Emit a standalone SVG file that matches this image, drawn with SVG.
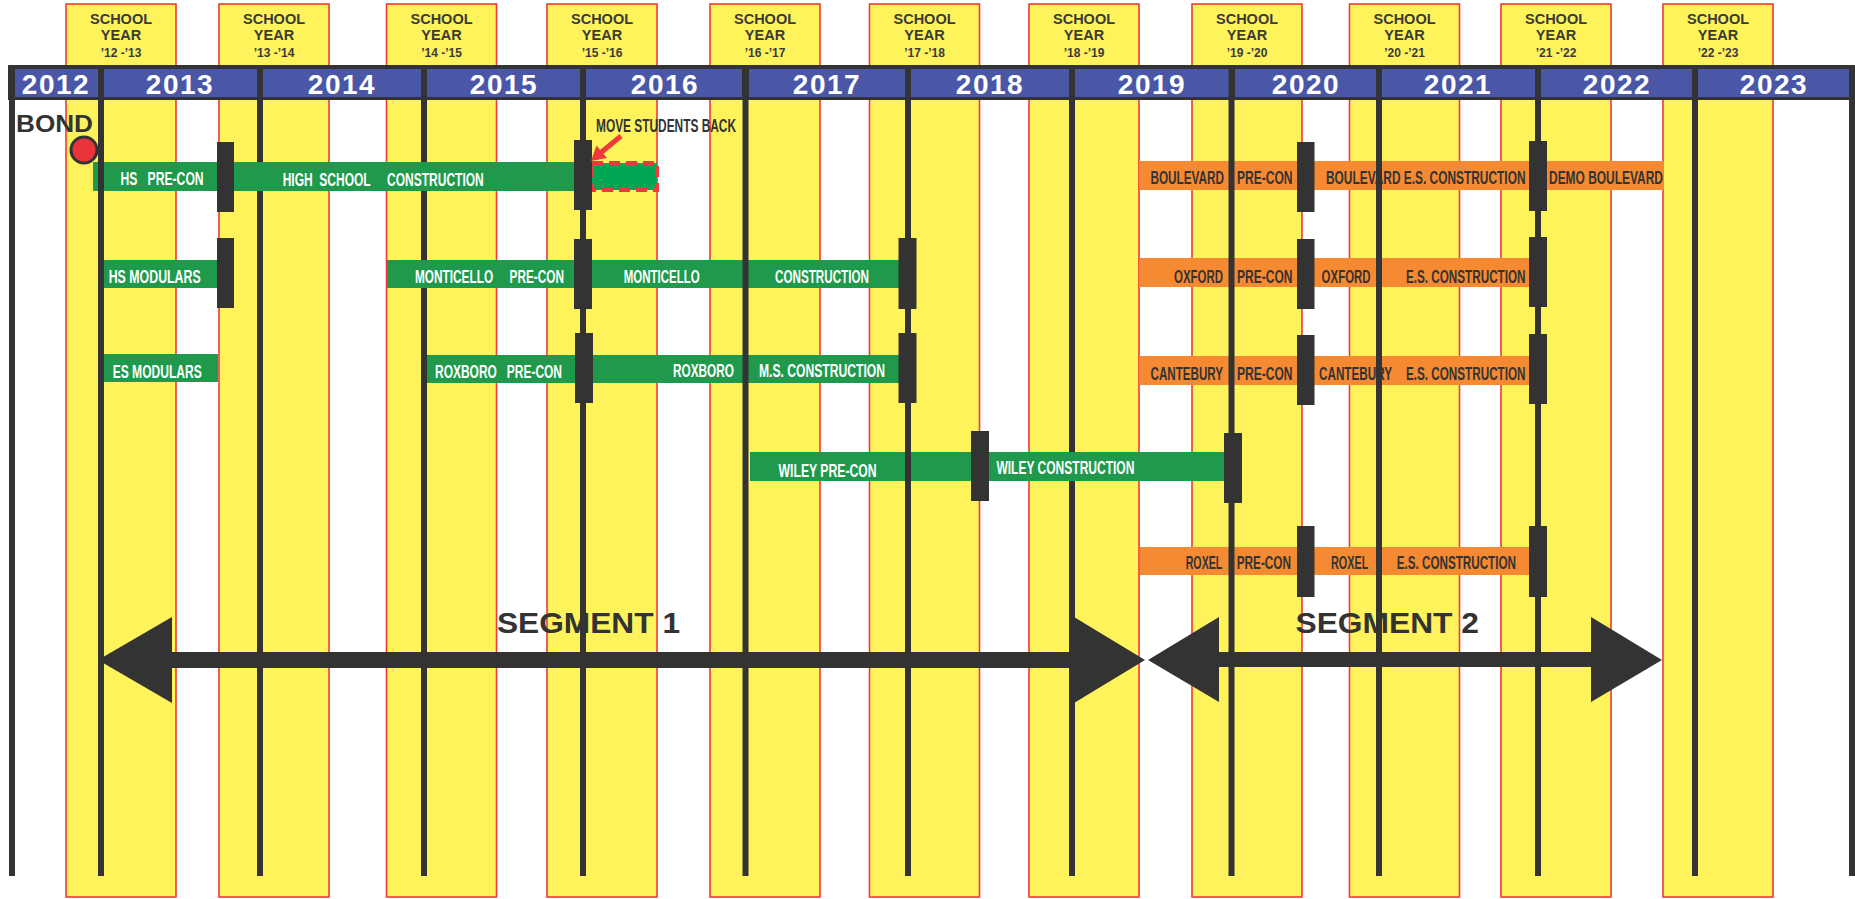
<svg xmlns="http://www.w3.org/2000/svg" width="1855" height="899" viewBox="0 0 1855 899">
<style>
.col{fill:#FFF35C;stroke:#EE3A3A;stroke-width:1.6}
.sy{font-family:"Liberation Sans",Arial,sans-serif;font-weight:bold;fill:#3a3a3a;text-anchor:middle}
.yr{font-family:"Liberation Sans",Arial,sans-serif;font-weight:bold;font-size:28px;fill:#fff;text-anchor:middle;letter-spacing:1.5px}
.cell{fill:#4A57A6}
.ln{stroke:#333;stroke-width:6;fill:none}
.g{fill:#1F9A4D}
.o{fill:#F58A32}
.mk{fill:#333}
.wt{font-family:"Liberation Sans",Arial,sans-serif;font-weight:bold;font-size:12.5px;fill:#fff;white-space:pre}
.dk{font-family:"Liberation Sans",Arial,sans-serif;font-weight:bold;font-size:12.5px;fill:#333;white-space:pre}
.big{font-family:"Liberation Sans",Arial,sans-serif;font-weight:bold;fill:#333}
</style>
<rect width="1855" height="899" fill="#fff"/>
<g id="school-years">
<g id="sy1213"><rect class="col" x="66" y="4" width="110" height="893"/><text class="sy" x="121" y="24" font-size="14.5">SCHOOL</text><text class="sy" x="121" y="40" font-size="14.5">YEAR</text><text class="sy" x="121" y="57" font-size="12">’12 -’13</text></g>
<g id="sy1314"><rect class="col" x="219" y="4" width="110" height="893"/><text class="sy" x="274" y="24" font-size="14.5">SCHOOL</text><text class="sy" x="274" y="40" font-size="14.5">YEAR</text><text class="sy" x="274" y="57" font-size="12">’13 -’14</text></g>
<g id="sy1415"><rect class="col" x="386.5" y="4" width="110" height="893"/><text class="sy" x="441.5" y="24" font-size="14.5">SCHOOL</text><text class="sy" x="441.5" y="40" font-size="14.5">YEAR</text><text class="sy" x="441.5" y="57" font-size="12">’14 -’15</text></g>
<g id="sy1516"><rect class="col" x="547" y="4" width="110" height="893"/><text class="sy" x="602" y="24" font-size="14.5">SCHOOL</text><text class="sy" x="602" y="40" font-size="14.5">YEAR</text><text class="sy" x="602" y="57" font-size="12">’15 -’16</text></g>
<g id="sy1617"><rect class="col" x="710" y="4" width="110" height="893"/><text class="sy" x="765" y="24" font-size="14.5">SCHOOL</text><text class="sy" x="765" y="40" font-size="14.5">YEAR</text><text class="sy" x="765" y="57" font-size="12">’16 -’17</text></g>
<g id="sy1718"><rect class="col" x="869.5" y="4" width="110" height="893"/><text class="sy" x="924.5" y="24" font-size="14.5">SCHOOL</text><text class="sy" x="924.5" y="40" font-size="14.5">YEAR</text><text class="sy" x="924.5" y="57" font-size="12">’17 -’18</text></g>
<g id="sy1819"><rect class="col" x="1029" y="4" width="110" height="893"/><text class="sy" x="1084" y="24" font-size="14.5">SCHOOL</text><text class="sy" x="1084" y="40" font-size="14.5">YEAR</text><text class="sy" x="1084" y="57" font-size="12">’18 -’19</text></g>
<g id="sy1920"><rect class="col" x="1192" y="4" width="110" height="893"/><text class="sy" x="1247" y="24" font-size="14.5">SCHOOL</text><text class="sy" x="1247" y="40" font-size="14.5">YEAR</text><text class="sy" x="1247" y="57" font-size="12">’19 -’20</text></g>
<g id="sy2021"><rect class="col" x="1349.5" y="4" width="110" height="893"/><text class="sy" x="1404.5" y="24" font-size="14.5">SCHOOL</text><text class="sy" x="1404.5" y="40" font-size="14.5">YEAR</text><text class="sy" x="1404.5" y="57" font-size="12">’20 -’21</text></g>
<g id="sy2122"><rect class="col" x="1501" y="4" width="110" height="893"/><text class="sy" x="1556" y="24" font-size="14.5">SCHOOL</text><text class="sy" x="1556" y="40" font-size="14.5">YEAR</text><text class="sy" x="1556" y="57" font-size="12">’21 -’22</text></g>
<g id="sy2223"><rect class="col" x="1663" y="4" width="110" height="893"/><text class="sy" x="1718" y="24" font-size="14.5">SCHOOL</text><text class="sy" x="1718" y="40" font-size="14.5">YEAR</text><text class="sy" x="1718" y="57" font-size="12">’22 -’23</text></g>
</g>
<g id="header">
<rect x="8" y="65" width="1847" height="35" fill="#333"/>
<rect class="cell" x="15" y="69" width="83" height="28"/>
<rect class="cell" x="104" y="69" width="153" height="28"/>
<rect class="cell" x="263" y="69" width="158" height="28"/>
<rect class="cell" x="427" y="69" width="153" height="28"/>
<rect class="cell" x="586" y="69" width="156" height="28"/>
<rect class="cell" x="749" y="69" width="156" height="28"/>
<rect class="cell" x="911" y="69" width="158" height="28"/>
<rect class="cell" x="1075" y="69" width="154" height="28"/>
<rect class="cell" x="1235" y="69" width="141" height="28"/>
<rect class="cell" x="1382" y="69" width="153" height="28"/>
<rect class="cell" x="1541" y="69" width="151" height="28"/>
<rect class="cell" x="1698" y="69" width="151" height="28"/>
<text class="yr" x="56" y="94">2012</text>
<text class="yr" x="180" y="94">2013</text>
<text class="yr" x="342" y="94">2014</text>
<text class="yr" x="504" y="94">2015</text>
<text class="yr" x="665" y="94">2016</text>
<text class="yr" x="827" y="94">2017</text>
<text class="yr" x="990" y="94">2018</text>
<text class="yr" x="1152" y="94">2019</text>
<text class="yr" x="1306" y="94">2020</text>
<text class="yr" x="1458" y="94">2021</text>
<text class="yr" x="1617" y="94">2022</text>
<text class="yr" x="1774" y="94">2023</text>
</g>
<g id="lines-back">
<line class="ln" x1="260" y1="65" x2="260" y2="876"/>
<line class="ln" x1="424" y1="65" x2="424" y2="876"/>
<line class="ln" x1="1072" y1="65" x2="1072" y2="876"/>
</g>
<g id="bond">
<text class="big" x="16" y="132" font-size="23" textLength="77" lengthAdjust="spacingAndGlyphs">BOND</text>
<circle cx="84" cy="150" r="13" fill="#E8343A" stroke="#333" stroke-width="3"/>
</g>
<g id="bars">
<g id="hs"><rect class="g" x="93" y="162" width="490" height="29"/>
<text class="wt" transform="translate(120.6 185) scale(1 1.45)" textLength="83" lengthAdjust="spacingAndGlyphs" xml:space="preserve">HS   PRE-CON</text>
<text class="wt" transform="translate(282.7 186) scale(1 1.45)" textLength="201" lengthAdjust="spacingAndGlyphs" xml:space="preserve">HIGH  SCHOOL     CONSTRUCTION</text></g>
<g id="move-back"><rect x="592" y="163" width="65" height="27" fill="#00A651" stroke="#EE3A3A" stroke-width="4" stroke-dasharray="11 6"/>
<text class="dk" transform="translate(596 132) scale(1 1.45)" textLength="140" lengthAdjust="spacingAndGlyphs">MOVE STUDENTS BACK</text></g>
<g id="hs-modulars"><rect class="g" x="104" y="260" width="113" height="28"/>
<text class="wt" transform="translate(108.7 283) scale(1 1.45)" textLength="92" lengthAdjust="spacingAndGlyphs">HS MODULARS</text></g>
<g id="monticello"><rect class="g" x="387" y="260" width="512" height="28"/>
<text class="wt" transform="translate(415 283) scale(1 1.45)" textLength="149" lengthAdjust="spacingAndGlyphs" xml:space="preserve">MONTICELLO     PRE-CON</text>
<text class="wt" transform="translate(623.7 283) scale(1 1.45)" textLength="76" lengthAdjust="spacingAndGlyphs">MONTICELLO</text>
<text class="wt" transform="translate(775 283) scale(1 1.45)" textLength="94" lengthAdjust="spacingAndGlyphs">CONSTRUCTION</text></g>
<g id="es-modulars"><rect class="g" x="104" y="354" width="114" height="28"/>
<text class="wt" transform="translate(112.7 378) scale(1 1.45)" textLength="89" lengthAdjust="spacingAndGlyphs">ES MODULARS</text></g>
<g id="roxboro"><rect class="g" x="427" y="355" width="472" height="28"/>
<text class="wt" transform="translate(435 378) scale(1 1.45)" textLength="127" lengthAdjust="spacingAndGlyphs" xml:space="preserve">ROXBORO   PRE-CON</text>
<text class="wt" transform="translate(673 377) scale(1 1.45)" textLength="61" lengthAdjust="spacingAndGlyphs">ROXBORO</text>
<text class="wt" transform="translate(759 377) scale(1 1.45)" textLength="126" lengthAdjust="spacingAndGlyphs">M.S. CONSTRUCTION</text></g>
<g id="wiley"><rect class="g" x="750" y="452" width="474" height="29"/>
<text class="wt" transform="translate(778.6 477) scale(1 1.45)" textLength="98" lengthAdjust="spacingAndGlyphs">WILEY PRE-CON</text>
<text class="wt" transform="translate(996.4 474) scale(1 1.45)" textLength="138" lengthAdjust="spacingAndGlyphs">WILEY CONSTRUCTION</text></g>
<g id="boulevard"><rect class="o" x="1139" y="161" width="525" height="29"/>
<text class="dk" transform="translate(1150.5 184) scale(1 1.45)" textLength="73.5" lengthAdjust="spacingAndGlyphs">BOULEVARD</text>
<text class="dk" transform="translate(1237 184) scale(1 1.45)" textLength="55.5" lengthAdjust="spacingAndGlyphs">PRE-CON</text>
<text class="dk" transform="translate(1326 184) scale(1 1.45)" textLength="199.5" lengthAdjust="spacingAndGlyphs">BOULEVARD E.S. CONSTRUCTION</text>
<text class="dk" transform="translate(1549 184) scale(1 1.45)" textLength="114" lengthAdjust="spacingAndGlyphs">DEMO BOULEVARD</text></g>
<g id="oxford"><rect class="o" x="1139" y="258" width="390" height="29"/>
<text class="dk" transform="translate(1174 283) scale(1 1.45)" textLength="49" lengthAdjust="spacingAndGlyphs">OXFORD</text>
<text class="dk" transform="translate(1237 283) scale(1 1.45)" textLength="55.5" lengthAdjust="spacingAndGlyphs">PRE-CON</text>
<text class="dk" transform="translate(1321.6 283) scale(1 1.45)" textLength="49" lengthAdjust="spacingAndGlyphs">OXFORD</text>
<text class="dk" transform="translate(1406 283) scale(1 1.45)" textLength="119.5" lengthAdjust="spacingAndGlyphs">E.S. CONSTRUCTION</text></g>
<g id="cantebury"><rect class="o" x="1139" y="356" width="390" height="29"/>
<text class="dk" transform="translate(1150.5 380) scale(1 1.45)" textLength="72.5" lengthAdjust="spacingAndGlyphs">CANTEBURY</text>
<text class="dk" transform="translate(1237 380) scale(1 1.45)" textLength="55.5" lengthAdjust="spacingAndGlyphs">PRE-CON</text>
<text class="dk" transform="translate(1319 380) scale(1 1.45)" textLength="73" lengthAdjust="spacingAndGlyphs">CANTEBURY</text>
<text class="dk" transform="translate(1406 380) scale(1 1.45)" textLength="119.5" lengthAdjust="spacingAndGlyphs">E.S. CONSTRUCTION</text></g>
<g id="roxel"><rect class="o" x="1140" y="547" width="390" height="28"/>
<text class="dk" transform="translate(1185.7 569) scale(1 1.45)" textLength="36.6" lengthAdjust="spacingAndGlyphs">ROXEL</text>
<text class="dk" transform="translate(1236.7 569) scale(1 1.45)" textLength="54.3" lengthAdjust="spacingAndGlyphs">PRE-CON</text>
<text class="dk" transform="translate(1331 569) scale(1 1.45)" textLength="37.3" lengthAdjust="spacingAndGlyphs">ROXEL</text>
<text class="dk" transform="translate(1396.7 569) scale(1 1.45)" textLength="119.3" lengthAdjust="spacingAndGlyphs">E.S. CONSTRUCTION</text></g>
</g>
<g id="lines-front">
<line class="ln" x1="12" y1="65" x2="12" y2="876"/>
<line class="ln" x1="101" y1="65" x2="101" y2="876"/>
<line class="ln" x1="583" y1="65" x2="583" y2="876"/>
<line class="ln" x1="745.5" y1="65" x2="745.5" y2="876"/>
<line class="ln" x1="908" y1="65" x2="908" y2="876"/>
<line class="ln" x1="1231.5" y1="65" x2="1231.5" y2="876"/>
<line class="ln" x1="1379" y1="65" x2="1379" y2="876"/>
<line class="ln" x1="1538" y1="65" x2="1538" y2="876"/>
<line class="ln" x1="1695" y1="65" x2="1695" y2="876"/>
<line class="ln" x1="1852" y1="65" x2="1852" y2="876"/>
</g>
<g id="markers">
<rect class="mk" x="217" y="142" width="17" height="70"/>
<rect class="mk" x="217" y="238" width="17" height="70"/>
<rect class="mk" x="574" y="140" width="18" height="70"/>
<rect class="mk" x="574" y="239" width="18" height="70"/>
<rect class="mk" x="575" y="333" width="18" height="70"/>
<rect class="mk" x="898.5" y="238" width="18" height="71"/>
<rect class="mk" x="898.5" y="333" width="18" height="70"/>
<rect class="mk" x="971" y="431" width="18" height="70"/>
<rect class="mk" x="1224" y="433" width="18" height="70"/>
<rect class="mk" x="1297" y="142" width="17.5" height="70"/>
<rect class="mk" x="1297" y="239" width="17.5" height="70"/>
<rect class="mk" x="1297" y="335" width="17.5" height="70"/>
<rect class="mk" x="1297" y="526" width="17.5" height="71"/>
<rect class="mk" x="1529" y="141" width="18" height="70"/>
<rect class="mk" x="1529" y="237" width="18" height="70"/>
<rect class="mk" x="1529" y="334" width="18" height="70"/>
<rect class="mk" x="1529" y="526" width="18" height="71"/>
</g>
<g id="connectors">
<line x1="621" y1="136" x2="601" y2="152.5" stroke="#EE3A3A" stroke-width="5"/>
<polygon points="591,161 607,158 596.5,145.5" fill="#EE3A3A"/>
</g>
<g id="segment1">
<polygon points="98,660 172,617 172,652 1074,652 1074,617 1145,660 1074,703 1074,668 172,668 172,703" fill="#333"/>
<text class="big" x="497" y="633" font-size="30" textLength="183" lengthAdjust="spacingAndGlyphs">SEGMENT 1</text>
</g>
<g id="segment2">
<polygon points="1148,660 1219,617 1219,652 1591,652 1591,617 1662,660 1591,702 1591,667 1219,667 1219,702" fill="#333"/>
<text class="big" x="1295.5" y="633" font-size="30" textLength="183.5" lengthAdjust="spacingAndGlyphs">SEGMENT 2</text>
</g>
</svg>
